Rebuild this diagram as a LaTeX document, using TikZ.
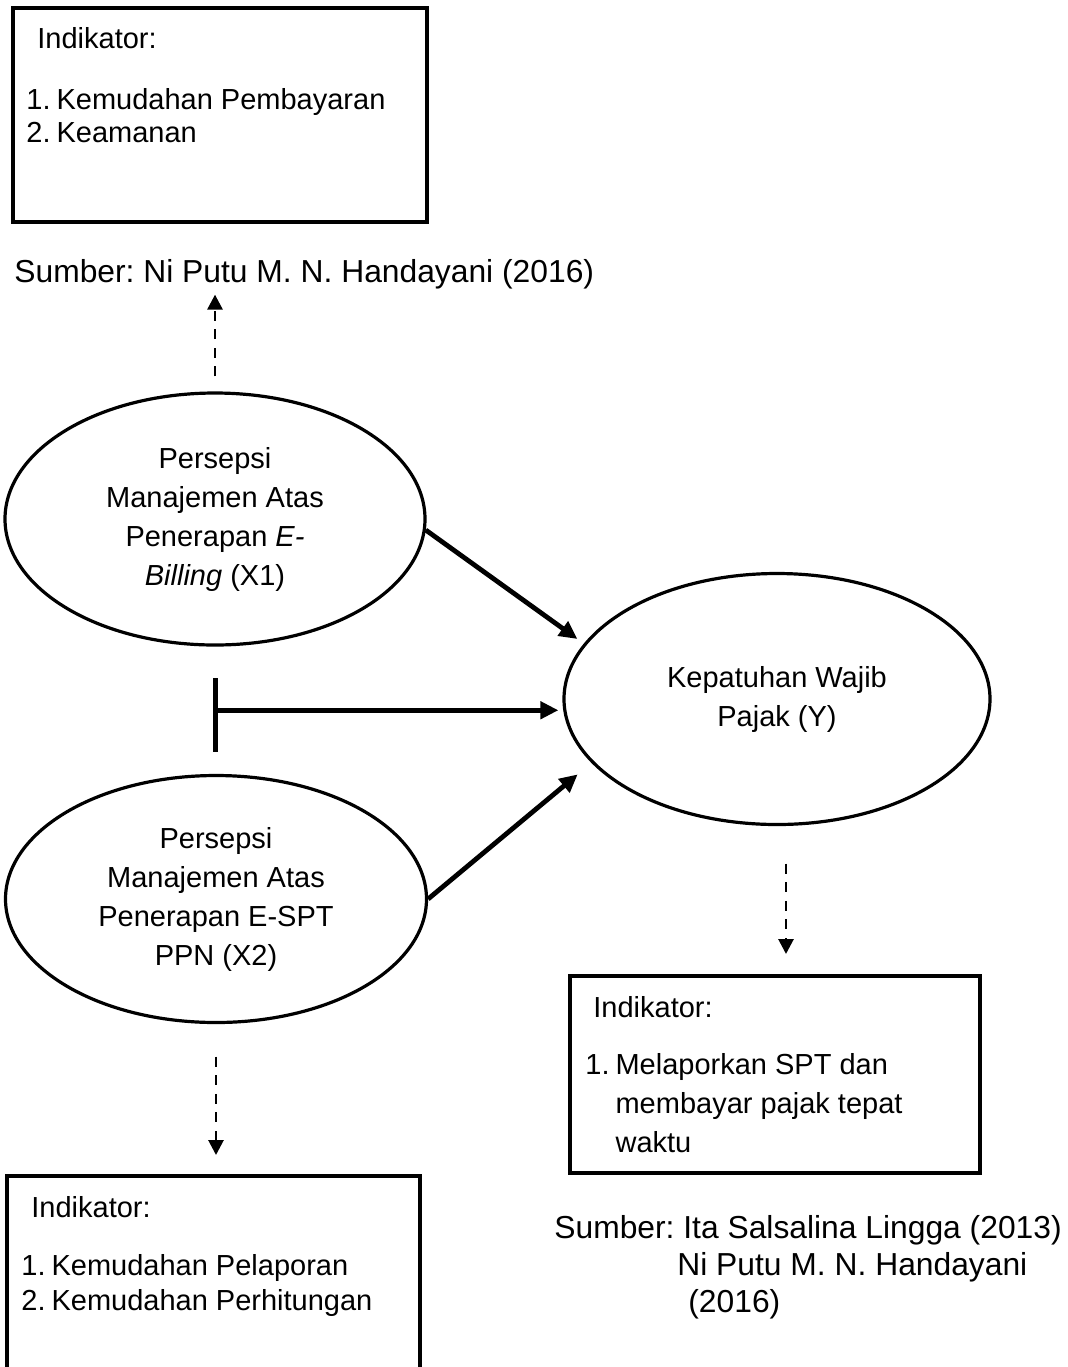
\documentclass[tikz,border=0pt]{standalone}
\usepackage{fontspec}
\setmainfont{Liberation Sans}
\usetikzlibrary{arrows.meta, positioning, shapes.geometric, calc}
\frenchspacing

\begin{document}
\begin{tikzpicture}[
  x = 0.5pt, y = -0.5pt,
  font = \fontsize{14.5}{19.5}\selectfont,
  latent/.style = {ellipse, draw, line width=1.6pt, inner sep=0pt,
                   align=center, minimum width=210pt, minimum height=126pt},
  indbox/.style = {rectangle, draw, line width=2pt, inner sep=0pt},
  txt/.style = {anchor=west, inner sep=0pt, align=left},
  src/.style = {txt, font=\fontsize{15.9}{18.5}\selectfont},
  arrow/.style = {-{Triangle[length=9pt,width=8.5pt]}, line width=2.4pt},
  tbar/.style = {line width=2.3pt},
  dasharrow/.style = {-{Triangle[length=7.5pt,width=7.5pt]}, line width=1.4pt,
                      dash pattern=on 5pt off 4.3pt},
]
\path[fill=white] (0,0) rectangle (1067,1367);
\clip (0,0) rectangle (1067,1367);

% indicator box X1
\node[indbox, minimum width=207pt, minimum height=107pt] (boxA) at (220,115) {};
\node[txt] (indA) at (37,38) {Indikator:};
\node[txt, font=\fontsize{14.5}{16.5}\selectfont] (listA) at (26,116)
  {1.\hspace*{3pt}Kemudahan Pembayaran\\2.\hspace*{3pt}Keamanan};
\node[src] (srcA) at (14,274) {Sumber: Ni Putu M. N. Handayani (2016)};

% variables
\node[latent] (x1) at (215,519)
  {Persepsi\\Manajemen Atas\\Penerapan \textit{E-}\\\textit{Billing} (X1)};
\node[latent, minimum width=213pt, minimum height=125.5pt] (y) at (777,699)
  {Kepatuhan Wajib\\Pajak (Y)};
\node[latent, minimum width=210.5pt, minimum height=123.5pt] (x2) at (216,899)
  {Persepsi\\Manajemen Atas\\Penerapan E-SPT\\PPN (X2)};

% indicator box Y
\node[indbox, minimum width=205pt, minimum height=98.5pt] (boxB) at (775,1074.5) {};
\node[txt] (indB) at (593,1007) {Indikator:};
\node[txt] (listB) at (585,1103.5)
  {1.\hspace*{3pt}Melaporkan SPT dan\\\hphantom{1.}\hspace*{3pt}membayar pajak tepat\\\hphantom{1.}\hspace*{3pt}waktu};
\node[src] (srcB) at (554,1267)
  {Sumber: Ita Salsalina Lingga (2013)\\\hspace*{61.5pt}Ni Putu M. N. Handayani\\\hspace*{67pt}(2016)};

% indicator box X2
\node[indbox, minimum width=206.5pt, minimum height=120pt] (boxC) at (213.5,1296) {};
\node[txt] (indC) at (31,1207) {Indikator:};
\node[txt, font=\fontsize{14.5}{17.5}\selectfont] (listC) at (21,1285)
  {1.\hspace*{3pt}Kemudahan Pelaporan\\2.\hspace*{3pt}Kemudahan Perhitungan};

% connectors
\coordinate (tee) at ($(x1.south)!0.5!(x2.north)$);
\coordinate (yout) at ([xshift=4.5pt]y.south);
\draw[arrow, shorten >=4pt] (x1.-3) -- (y.164);
\draw[arrow, shorten >=9pt] (x2.east) -- (y.199);
\draw[tbar] ([yshift=16pt]tee) -- ([yshift=-21pt]tee);
\draw[arrow, shorten >=2pt] (tee) -- (tee -| y.west);
\draw[dasharrow, shorten <=7.5pt, shorten >=2.7pt] (x1.north) -- (x1.north |- srcA.south);
\draw[dasharrow, shorten <=18.75pt, shorten >=10pt] (yout) -- (yout |- boxB.north);
\draw[dasharrow, shorten <=16.25pt, shorten >=9.5pt] (x2.south) -- (x2.south |- boxC.north);
\end{tikzpicture}
\end{document}
